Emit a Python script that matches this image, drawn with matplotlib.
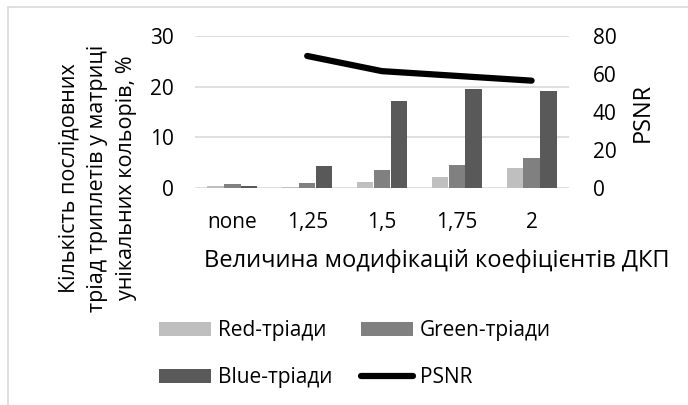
"""Bar chart of sequential triplet triads per colour channel with PSNR overlay."""

import matplotlib

matplotlib.use("Agg")
import matplotlib.pyplot as plt
from matplotlib.patches import Rectangle
import numpy as np

plt.rcParams["font.family"] = ["Open Sans", "DejaVu Sans"]

categories = ["none", "1,25", "1,5", "1,75", "2"]
red_triads = [0.3, 0.2, 1.1, 2.1, 4.0]
green_triads = [0.7, 0.9, 3.5, 4.6, 6.0]
blue_triads = [0.3, 4.3, 17.1, 19.5, 19.2]
psnr = [np.nan, 69.5, 61.5, 59.0, 56.5]

W, H = 688, 405
fig = plt.figure(figsize=(W / 100, H / 100), dpi=100)

# light frame around the chart area
fig.add_artist(Rectangle((8 / W, -0.05), 1.1, 1 - 7 / H + 0.05, transform=fig.transFigure,
                         fill=False, edgecolor="#d9d9d9", linewidth=1.2))

ax = fig.add_axes([195 / W, 1 - 188 / H, (569 - 195) / W, (188 - 36) / H])
x = np.arange(len(categories))
bw = 0.225
ax.bar(x - bw, red_triads, bw * 0.97, color="#bfbfbf", label="Red-тріади", zorder=2)
ax.bar(x, green_triads, bw * 0.97, color="#808080", label="Green-тріади", zorder=2)
ax.bar(x + bw, blue_triads, bw * 0.97, color="#595959", label="Blue-тріади", zorder=2)

ax.set_xlim(-0.5, len(categories) - 0.5)
ax.set_ylim(0, 30)
ax.set_yticks([0, 10, 20, 30])
ax.set_xticks(x)
ax.set_xticklabels(categories)
ax.grid(axis="y", color="#d9d9d9", linewidth=1.2, zorder=0)
for s in ax.spines.values():
    s.set_visible(False)
ax.tick_params(length=0, labelsize=15, pad=15)
ax.tick_params(axis="x", pad=17)
ax.set_xlabel("Величина модифікацій коефіцієнтів ДКП", fontsize=17)
ax.xaxis.set_label_coords(0.647, -0.40)
ax.set_ylabel("Кількість послідовних\nтріад триплетів у матриці\nунікальних кольорів, %",
              fontsize=15.5, linespacing=1.5)
ax.yaxis.set_label_coords(-0.155, 0.066)

ax2 = ax.twinx()
ax2.plot(x, psnr, color="black", linewidth=4.5, solid_capstyle="round",
         solid_joinstyle="round", label="PSNR", zorder=3)
ax2.set_ylim(0, 80)
ax2.set_yticks([0, 20, 40, 60, 80])
for s in ax2.spines.values():
    s.set_visible(False)
ax2.tick_params(length=0, labelsize=15, pad=17)
ax2.set_ylabel("PSNR", fontsize=17, labelpad=10)

h1, l1 = ax.get_legend_handles_labels()
h2, l2 = ax2.get_legend_handles_labels()
# column-major fill: Red / Blue in the first column, Green / PSNR in the second
handles = [h1[0], h1[2], h1[1], h2[0]]
labels = [l1[0], l1[2], l1[1], l2[0]]
fig.legend(handles, labels, ncol=2, loc="center", bbox_to_anchor=(355 / W, 1 - 354 / H),
           frameon=False, fontsize=15, handlelength=2.5, handleheight=0.67,
           handletextpad=0.3, columnspacing=1.4, labelspacing=1.25)

fig.savefig("out.png", dpi=100)
